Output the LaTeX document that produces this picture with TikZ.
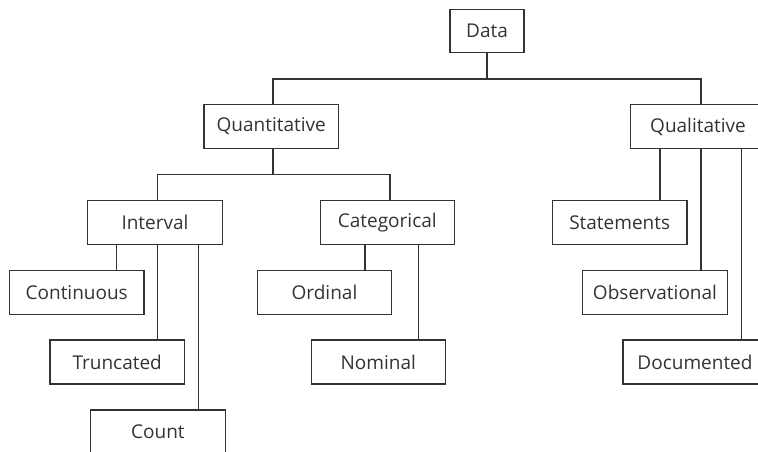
\documentclass[tikz,border=0pt]{standalone}
\usepackage{fontspec}
\setmainfont{Open Sans}
\definecolor{ink}{HTML}{333333}
\begin{document}
\begin{tikzpicture}[x=1pt,y=-1pt,
  box/.style={draw=ink,line width=1.1pt,minimum width=134.5pt,minimum height=44pt,inner sep=0pt,text=ink,font=\fontsize{19}{20}\selectfont},
  link/.style={draw=ink,line width=1.1pt}]
\useasboundingbox (0,0) rectangle (758,452);
\clip (0,0) rectangle (758,452);
\node[box,minimum width=74pt,minimum height=43pt] (data) at (487,30.7) {Data};
\node[box] (quant) at (271.2,126.5) {Quantitative};
\node[box] (qual) at (698,126.5) {Qualitative};
\node[box] (interval) at (155,222.5) {Interval};
\node[box] (categ) at (387.3,222.5) {Categorical};
\node[box] (stat) at (619.7,222.5) {Statements};
\node[box] (cont) at (76.7,292.3) {Continuous};
\node[box] (ord) at (324.5,292.3) {Ordinal};
\node[box,minimum width=145.4pt] (obs) at (655,292.3) {Observational};
\node[box] (trunc) at (117.2,362) {Truncated};
\node[box] (nom) at (378.3,362) {Nominal};
\node[box,minimum width=144pt] (doc) at (695,362) {Documented};
\node[box] (count) at (157.9,432) {Count};
% top level
\coordinate (b1) at (487,79);
\draw[link] (data.south) -- (b1);
\draw[link] ([xshift=1.8pt]quant.north) |- (b1) -| ([xshift=3pt]qual.north);
\coordinate (b2) at (273,174.3);
\draw[link] ([xshift=1.8pt]quant.south) -- (b2);
\draw[link] ([xshift=2.7pt]interval.north) |- (b2) -| ([xshift=2.7pt]categ.north);
% interval children
\draw[link] ([xshift=40pt]cont.north) -- ([xshift=40pt]cont.north |- interval.south);
\draw[link] ([xshift=40.5pt]trunc.north) -- ([xshift=40.5pt]trunc.north |- interval.south);
\draw[link] ([xshift=40.4pt]count.north) -- ([xshift=40.4pt]count.north |- interval.south);
% categorical children
\draw[link] ([xshift=40.5pt]ord.north) -- ([xshift=40.5pt]ord.north |- categ.south);
\draw[link] ([xshift=40.4pt]nom.north) -- ([xshift=40.4pt]nom.north |- categ.south);
% qualitative children
\draw[link] ([xshift=40.3pt]stat.north) -- ([xshift=40.3pt]stat.north |- qual.south);
\draw[link] ([xshift=46pt]obs.north) -- ([xshift=46pt]obs.north |- qual.south);
\draw[link] ([xshift=46.7pt]doc.north) -- ([xshift=46.7pt]doc.north |- qual.south);
\end{tikzpicture}
\end{document}
